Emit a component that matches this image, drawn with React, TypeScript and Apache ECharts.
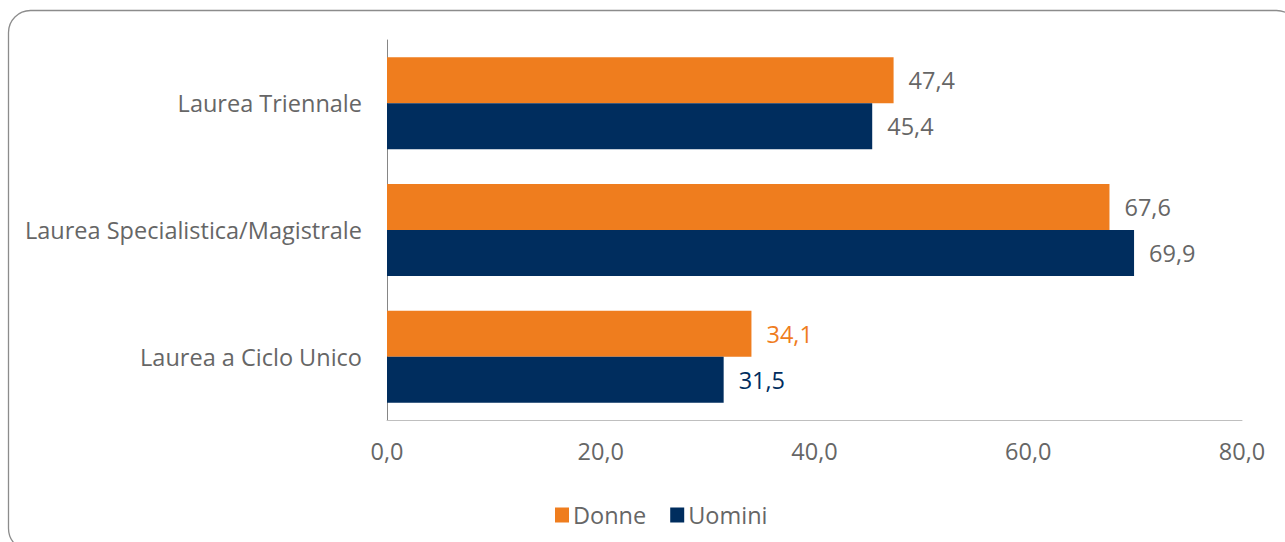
import React, { useEffect, useRef } from "react";
import * as echarts from "echarts";

const categories = ["Laurea Triennale", "Laurea Specialistica/Magistrale", "Laurea a Ciclo Unico"];
const donne = [47.4, 67.6, 34.1];
const uomini = [45.4, 69.9, 31.5];
const donneLabelColors = ["#666666", "#666666", "#EF7D1E"];
const uominiLabelColors = ["#666666", "#666666", "#002D5E"];
const xTicks = { min: 0, max: 80, interval: 20 };

const FONT = "Open Sans";
const FS = 23.5;
const GRAY = "#666666";
const fmt = (v: number) => v.toFixed(1).replace(".", ",");

export default function App() {
  const ref = useRef<HTMLDivElement>(null);
  useEffect(() => {
    document.body.style.margin = "0";
    const chart = echarts.init(ref.current!, null, { renderer: "svg" });
    chart.setOption({
      animation: false,
      textStyle: { fontFamily: FONT },
      graphic: [
        {
          type: "rect",
          shape: { x: 8.5, y: 10.5, width: 1290, height: 540, r: 22 },
          style: { fill: "none", stroke: "#8c8c8c", lineWidth: 1.3 },
          silent: true,
          z: -1,
        },
      ],
      legend: {
        data: ["Donne", "Uomini"],
        left: 550,
        top: 498,
        itemWidth: 14,
        itemHeight: 15,
        itemGap: 24,
        icon: "rect",
        textStyle: { color: GRAY, fontSize: FS, fontFamily: FONT, padding: [0, 0, 0, -1] },
      },
      grid: { left: 387, right: 43, top: 40, bottom: 122, containLabel: false },
      xAxis: {
        type: "value",
        min: xTicks.min,
        max: xTicks.max,
        interval: xTicks.interval,
        axisLine: { show: true, lineStyle: { color: "#bfbfbf", width: 1 } },
        axisTick: { show: false },
        splitLine: { show: false },
        axisLabel: { color: GRAY, fontSize: FS, margin: 19, formatter: (v: number) => fmt(v) },
      },
      yAxis: {
        type: "category",
        inverse: true,
        data: categories,
        axisLine: { show: true, lineStyle: { color: "#868686", width: 1 } },
        axisTick: { show: false },
        axisLabel: { color: GRAY, fontSize: FS, margin: 25 },
      },
      series: [
        {
          name: "Donne",
          type: "bar",
          barWidth: 46,
          barGap: "0%",
          itemStyle: { color: "#EF7D1E" },
          data: donne.map((v, i) => ({
            value: v,
            label: { color: donneLabelColors[i] },
          })),
          label: { show: true, position: "right", distance: 15, fontSize: FS, formatter: (p: any) => fmt(p.value) },
        },
        {
          name: "Uomini",
          type: "bar",
          barWidth: 46,
          barGap: "0%",
          itemStyle: { color: "#002D5E" },
          data: uomini.map((v, i) => ({
            value: v,
            label: { color: uominiLabelColors[i] },
          })),
          label: { show: true, position: "right", distance: 15, fontSize: FS, formatter: (p: any) => fmt(p.value) },
        },
      ],
    });
    return () => chart.dispose();
  }, []);
  return <div ref={ref} style={{ width: 1285, height: 542 }} />;
}
